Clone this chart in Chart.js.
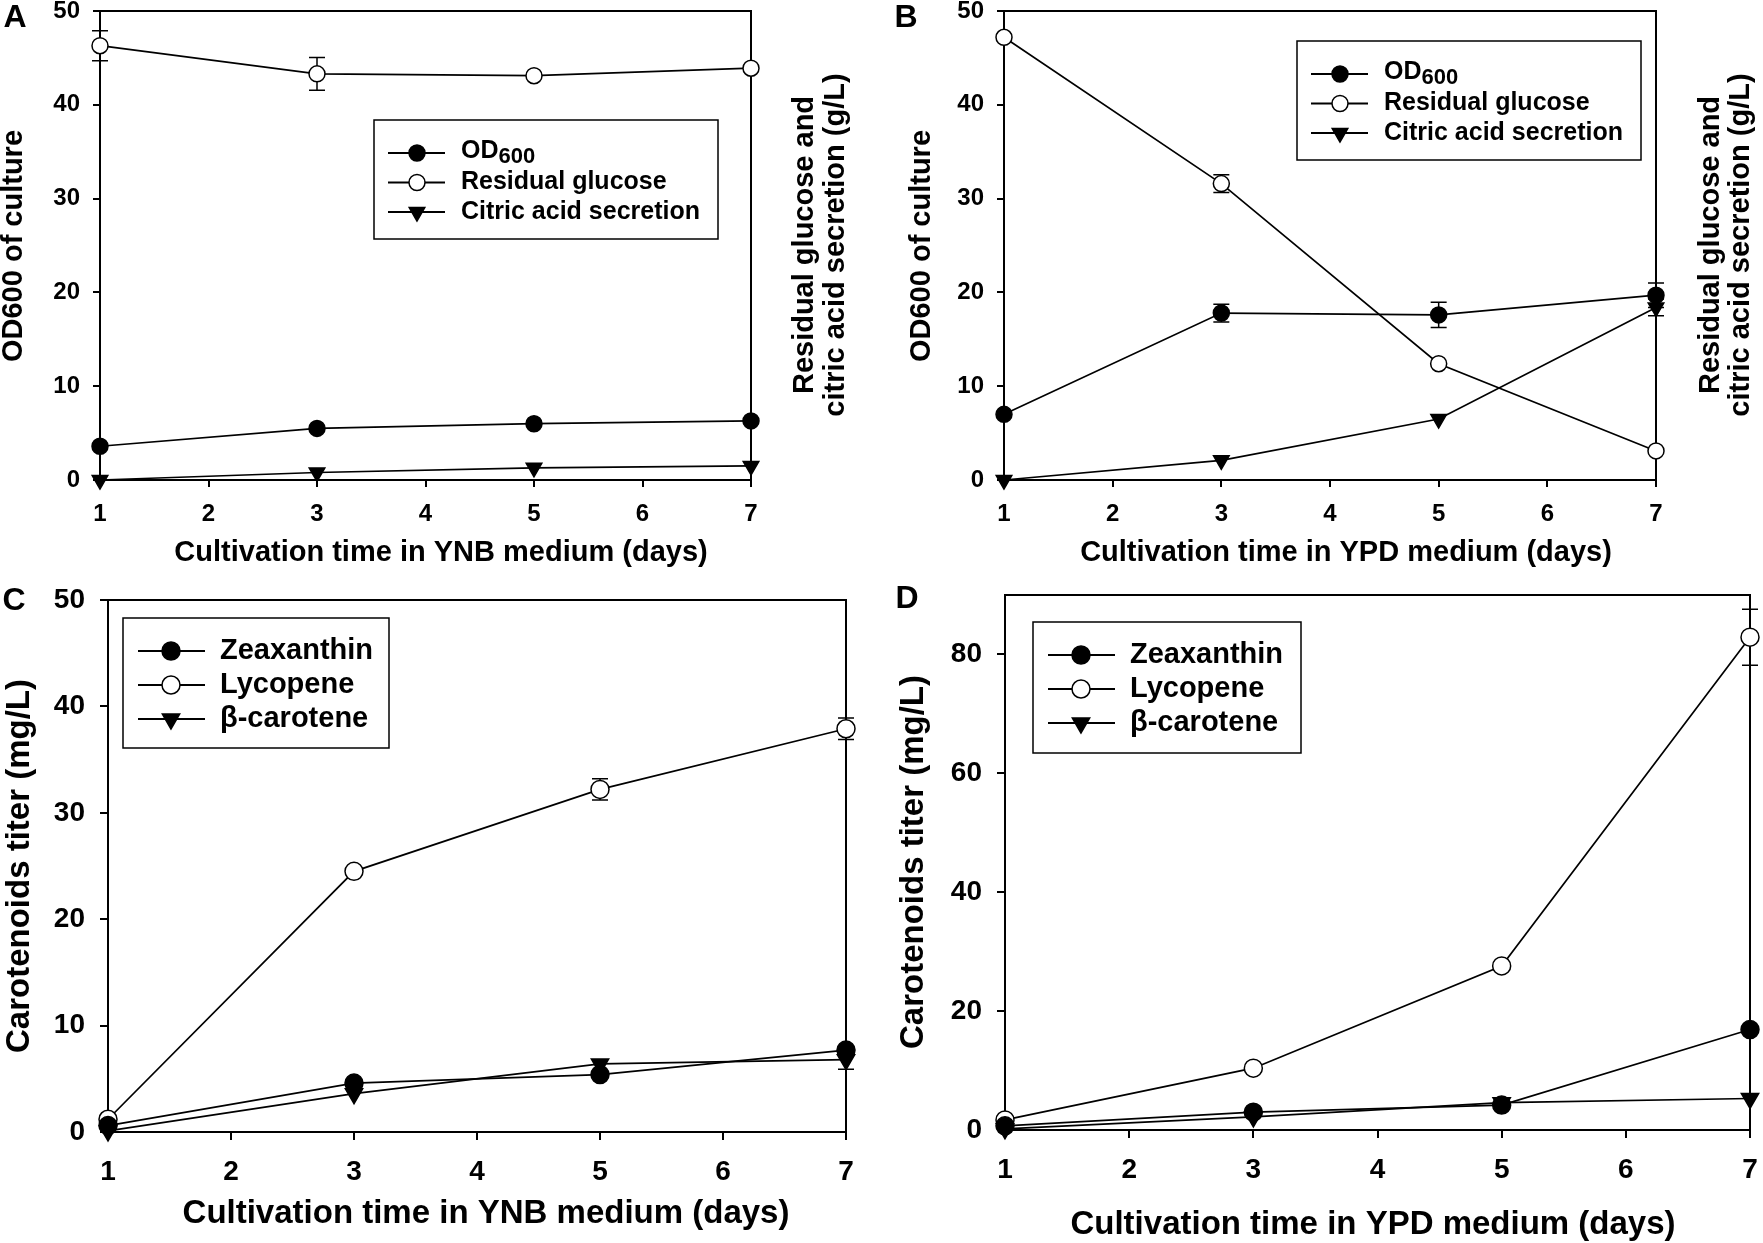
<!DOCTYPE html>
<html><head><meta charset="utf-8">
<script src="https://cdn.jsdelivr.net/npm/chart.js@4.4.1/dist/chart.umd.min.js"></script>
<style>
html,body{margin:0;padding:0;background:#fff;}
body{width:1763px;height:1243px;position:relative;overflow:hidden;}
canvas{position:absolute;}
</style></head><body>
<canvas id="cA" width="880" height="580" style="left:0px;top:0px"></canvas>
<canvas id="cB" width="883" height="580" style="left:880px;top:0px"></canvas>
<canvas id="cC" width="880" height="663" style="left:0px;top:580px"></canvas>
<canvas id="cD" width="883" height="663" style="left:880px;top:580px"></canvas>
<script>
// ---------- data ----------
const days = [1, 3, 5, 7];
const xTickValues = [1, 2, 3, 4, 5, 6, 7];
const yTicksAB = [0, 10, 20, 30, 40, 50];
const yTicksC = [0, 10, 20, 30, 40, 50];
const yTicksD = [0, 20, 40, 60, 80];

// Panel A (YNB)
const odYNB = [3.6, 5.5, 6.0, 6.3];
const odYNBErr = [0, 0, 0, 0];
const glucoseYNB = [46.3, 43.3, 43.1, 43.9];
const glucoseYNBErr = [1.6, 1.75, 0, 0];
const citricYNB = [0, 0.8, 1.3, 1.5];
const citricYNBErr = [0, 0, 0, 0];

// Panel B (YPD)
const odYPD = [7.0, 17.8, 17.6, 19.7];
const odYPDErr = [0, 0.95, 1.35, 1.3];
const glucoseYPD = [47.2, 31.6, 12.4, 3.1];
const glucoseYPDErr = [0, 0.95, 0, 0];
const citricYPD = [0, 2.1, 6.5, 18.4];
const citricYPDErr = [0, 0, 0, 0.9];

// Panel C (YNB carotenoids)
const zeaYNB = [0.6, 4.6, 5.4, 7.7];
const zeaYNBErr = [0, 0, 0, 0];
const lycYNB = [1.2, 24.5, 32.2, 37.9];
const lycYNBErr = [0, 0, 1.0, 1.0];
const betaYNB = [0.1, 3.6, 6.4, 6.8];
const betaYNBErr = [0, 0, 0, 0.9];

// Panel D (YPD carotenoids)
const zeaYPD = [0.7, 3.0, 4.2, 16.9];
const zeaYPDErr = [0, 0, 0, 0];
const lycYPD = [1.7, 10.4, 27.6, 82.9];
const lycYPDErr = [0, 0, 0, 4.7];
const betaYPD = [0.2, 2.2, 4.6, 5.3];
const betaYPDErr = [0, 0, 0, 0];

const labelsAB = ['OD600', 'Residual glucose', 'Citric acid secretion'];
const labelsCD = ['Zeaxanthin', 'Lycopene', '\u03b2-carotene'];

// ---------- styling helpers ----------
const FAM = '"Liberation Sans", Arial, Helvetica, sans-serif';
const fnt = (s) => 'bold ' + s + 'px ' + FAM;
const STY = {
  filled: { ps: 'circle', rot: 0, fill: '#000' },
  open: { ps: 'circle', rot: 0, fill: '#fff' },
  tri: { ps: 'triangle', rot: 180, fill: '#000' }
};

function ds(label, vals, errs, st, r) {
  return {
    label: label,
    data: days.map((d, i) => ({ x: d, y: vals[i] })),
    errs: errs,
    borderColor: '#000', borderWidth: 1.7, tension: 0, fill: false, clip: false,
    pointStyle: st.ps, pointRotation: st.rot,
    pointRadius: st.ps === 'triangle' ? r + 1 : r,
    pointBackgroundColor: st.fill, pointBorderColor: '#000', pointBorderWidth: 1.5,
    pointHoverRadius: r
  };
}

function drawMarker(ctx, st, r, x, y) {
  ctx.save();
  ctx.fillStyle = st.fill; ctx.strokeStyle = '#000'; ctx.lineWidth = 1.5;
  ctx.beginPath();
  if (st.ps === 'circle') {
    ctx.arc(x, y, r, 0, Math.PI * 2);
  } else {
    const rr = r + 1;
    let a = st.rot * Math.PI / 180;
    ctx.moveTo(x + Math.sin(a) * rr, y - Math.cos(a) * rr);
    a += 2 * Math.PI / 3;
    ctx.lineTo(x + Math.sin(a) * rr, y - Math.cos(a) * rr);
    a += 2 * Math.PI / 3;
    ctx.lineTo(x + Math.sin(a) * rr, y - Math.cos(a) * rr);
    ctx.closePath();
  }
  ctx.fill(); ctx.stroke();
  ctx.restore();
}

const errorBars = {
  id: 'errorBars',
  beforeDatasetsDraw(chart) {
    const ctx = chart.ctx, xs = chart.scales.x, ys = chart.scales.y;
    ctx.save(); ctx.strokeStyle = '#000'; ctx.lineWidth = 1.5;
    chart.data.datasets.forEach(d => {
      if (!d.errs) return;
      d.data.forEach((p, i) => {
        const e = d.errs[i]; if (!e) return;
        const x = xs.getPixelForValue(p.x);
        const y1 = ys.getPixelForValue(p.y + e), y2 = ys.getPixelForValue(p.y - e);
        const c = 8;
        ctx.beginPath();
        ctx.moveTo(x, y1); ctx.lineTo(x, y2);
        ctx.moveTo(x - c, y1); ctx.lineTo(x + c, y1);
        ctx.moveTo(x - c, y2); ctx.lineTo(x + c, y2);
        ctx.stroke();
      });
    });
    ctx.restore();
  }
};

const frame = {
  id: 'frame',
  beforeDatasetsDraw(chart) {
    const a = chart.chartArea, ctx = chart.ctx;
    ctx.save(); ctx.strokeStyle = '#000'; ctx.lineWidth = 2;
    ctx.beginPath();
    ctx.moveTo(a.left - 1, a.top); ctx.lineTo(a.right, a.top); ctx.lineTo(a.right, a.bottom + 1);
    ctx.stroke(); ctx.restore();
  }
};

function makeLegend(cfg) {
  return {
    id: 'boxLegend',
    afterDatasetsDraw(chart) {
      const ctx = chart.ctx;
      ctx.save();
      ctx.fillStyle = '#fff';
      ctx.fillRect(cfg.x, cfg.y, cfg.w, cfg.h);
      ctx.strokeStyle = '#000'; ctx.lineWidth = 1.5;
      ctx.strokeRect(cfg.x, cfg.y, cfg.w, cfg.h);
      cfg.rows.forEach((row, i) => {
        const y = cfg.y + cfg.rowY[i];
        ctx.strokeStyle = '#000'; ctx.lineWidth = 1.8;
        ctx.beginPath();
        ctx.moveTo(cfg.x + cfg.l0, y); ctx.lineTo(cfg.x + cfg.l1, y); ctx.stroke();
        drawMarker(ctx, row.st, cfg.r, cfg.x + cfg.mx, y);
        ctx.fillStyle = '#000';
        ctx.textAlign = 'left'; ctx.textBaseline = 'middle';
        ctx.font = fnt(cfg.fs);
        const tx = cfg.x + cfg.tx;
        if (row.label === 'OD600') {
          ctx.fillText('OD', tx, y - 2);
          const w = ctx.measureText('OD').width;
          ctx.font = fnt(Math.round(cfg.fs * 0.88));
          ctx.fillText('600', tx + w, y + 4);
        } else {
          ctx.fillText(row.label, tx, y);
        }
      });
      ctx.restore();
    }
  };
}

function makeTexts(items) {
  return {
    id: 'panelTexts',
    afterDraw(chart) {
      const ctx = chart.ctx;
      items.forEach(t => {
        ctx.save();
        ctx.fillStyle = '#000';
        ctx.font = fnt(t.s);
        ctx.textAlign = 'center'; ctx.textBaseline = 'middle';
        ctx.translate(t.x, t.y);
        if (t.rot) ctx.rotate(-Math.PI / 2);
        ctx.fillText(t.text, 0, 0);
        ctx.restore();
      });
    }
  };
}

function makeChart(id, cw, ch, area, cfg) {
  const tickFont = { family: FAM, size: cfg.tfs, weight: 'bold' };
  const grid = { display: true, drawOnChartArea: false, drawTicks: true, tickLength: cfg.tl, lineWidth: 2, color: '#000' };
  return new Chart(document.getElementById(id), {
    type: 'line',
    data: { datasets: cfg.datasets },
    options: {
      responsive: false, animation: false, devicePixelRatio: 1,
      events: [],
      layout: { padding: { left: 0, top: area.t, right: cw - area.r, bottom: 0 } },
      plugins: { legend: { display: false }, tooltip: { enabled: false } },
      scales: {
        x: {
          type: 'linear', min: 1, max: 7,
          afterBuildTicks: s => { s.ticks = xTickValues.map(v => ({ value: v })); },
          afterFit: s => { s.height = ch - area.b; s.paddingLeft = 0; s.paddingRight = 0; },
          ticks: { font: tickFont, color: '#000', padding: cfg.tpad, maxRotation: 0, autoSkip: false },
          grid: grid, border: { display: true, color: '#000', width: 2 }
        },
        y: {
          type: 'linear', min: 0, max: cfg.ymax,
          afterBuildTicks: s => { s.ticks = cfg.yTicks.map(v => ({ value: v })); },
          afterFit: s => { s.width = area.l; s.paddingTop = 0; s.paddingBottom = 0; },
          ticks: { font: tickFont, color: '#000', padding: cfg.tpad },
          grid: grid, border: { display: true, color: '#000', width: 2 }
        }
      }
    },
    plugins: [frame, errorBars, makeLegend(cfg.legend), makeTexts(cfg.texts)]
  });
}

// ---------- panels ----------
const legAB = (x, y) => ({ x: x, y: y, w: 344, h: 119, rowY: [33, 62.5, 92], l0: 14, l1: 71, mx: 43, tx: 87, r: 8, fs: 25,
  rows: [{ label: labelsAB[0], st: STY.filled }, { label: labelsAB[1], st: STY.open }, { label: labelsAB[2], st: STY.tri }] });
const legCD = (x, y, w, h) => ({ x: x, y: y, w: w, h: h, rowY: [33, 67, 101], l0: 15, l1: 82, mx: 48, tx: 97, r: 9, fs: 29,
  rows: [{ label: labelsCD[0], st: STY.filled }, { label: labelsCD[1], st: STY.open }, { label: labelsCD[2], st: STY.tri }] });

makeChart('cA', 880, 580, { l: 100, t: 11, r: 751, b: 480 }, {
  ymax: 50, yTicks: yTicksAB, tfs: 24, tl: 7, tpad: 13,
  datasets: [
    ds(labelsAB[0], odYNB, odYNBErr, STY.filled, 8),
    ds(labelsAB[1], glucoseYNB, glucoseYNBErr, STY.open, 8),
    ds(labelsAB[2], citricYNB, citricYNBErr, STY.tri, 8)
  ],
  legend: legAB(374, 120),
  texts: [
    { text: 'A', x: 15, y: 18, s: 32 },
    { text: 'OD600 of culture', x: 14, y: 246, s: 29, rot: true },
    { text: 'Cultivation time in YNB medium (days)', x: 441, y: 553, s: 29 },
    { text: 'Residual glucose and', x: 805, y: 245, s: 29, rot: true },
    { text: 'citric acid secretion (g/L)', x: 836, y: 245, s: 29, rot: true }
  ]
});

makeChart('cB', 883, 580, { l: 124, t: 11, r: 776, b: 480 }, {
  ymax: 50, yTicks: yTicksAB, tfs: 24, tl: 7, tpad: 13,
  datasets: [
    ds(labelsAB[0], odYPD, odYPDErr, STY.filled, 8),
    ds(labelsAB[1], glucoseYPD, glucoseYPDErr, STY.open, 8),
    ds(labelsAB[2], citricYPD, citricYPDErr, STY.tri, 8)
  ],
  legend: legAB(417, 41),
  texts: [
    { text: 'B', x: 26, y: 18, s: 32 },
    { text: 'OD600 of culture', x: 42, y: 246, s: 29, rot: true },
    { text: 'Cultivation time in YPD medium (days)', x: 466, y: 553, s: 29 },
    { text: 'Residual glucose and', x: 831, y: 245, s: 29, rot: true },
    { text: 'citric acid secretion (g/L)', x: 861, y: 245, s: 29, rot: true }
  ]
});

makeChart('cC', 880, 663, { l: 108, t: 20, r: 846, b: 552 }, {
  ymax: 50, yTicks: yTicksC, tfs: 28, tl: 8, tpad: 15,
  datasets: [
    ds(labelsCD[0], zeaYNB, zeaYNBErr, STY.filled, 9),
    ds(labelsCD[1], lycYNB, lycYNBErr, STY.open, 9),
    ds(labelsCD[2], betaYNB, betaYNBErr, STY.tri, 9)
  ],
  legend: legCD(123, 38, 266, 130),
  texts: [
    { text: 'C', x: 14, y: 21, s: 32 },
    { text: 'Carotenoids titer (mg/L)', x: 20, y: 286, s: 33, rot: true },
    { text: 'Cultivation time in YNB medium (days)', x: 486, y: 634, s: 33 }
  ]
});

makeChart('cD', 883, 663, { l: 125, t: 15, r: 870, b: 550 }, {
  ymax: 90, yTicks: yTicksD, tfs: 28, tl: 8, tpad: 15,
  datasets: [
    ds(labelsCD[0], zeaYPD, zeaYPDErr, STY.filled, 9),
    ds(labelsCD[1], lycYPD, lycYPDErr, STY.open, 9),
    ds(labelsCD[2], betaYPD, betaYPDErr, STY.tri, 9)
  ],
  legend: legCD(153, 42, 268, 131),
  texts: [
    { text: 'D', x: 27, y: 19, s: 32 },
    { text: 'Carotenoids titer (mg/L)', x: 34, y: 282, s: 33, rot: true },
    { text: 'Cultivation time in YPD medium (days)', x: 493, y: 645, s: 33 }
  ]
});
</script>
</body></html>
